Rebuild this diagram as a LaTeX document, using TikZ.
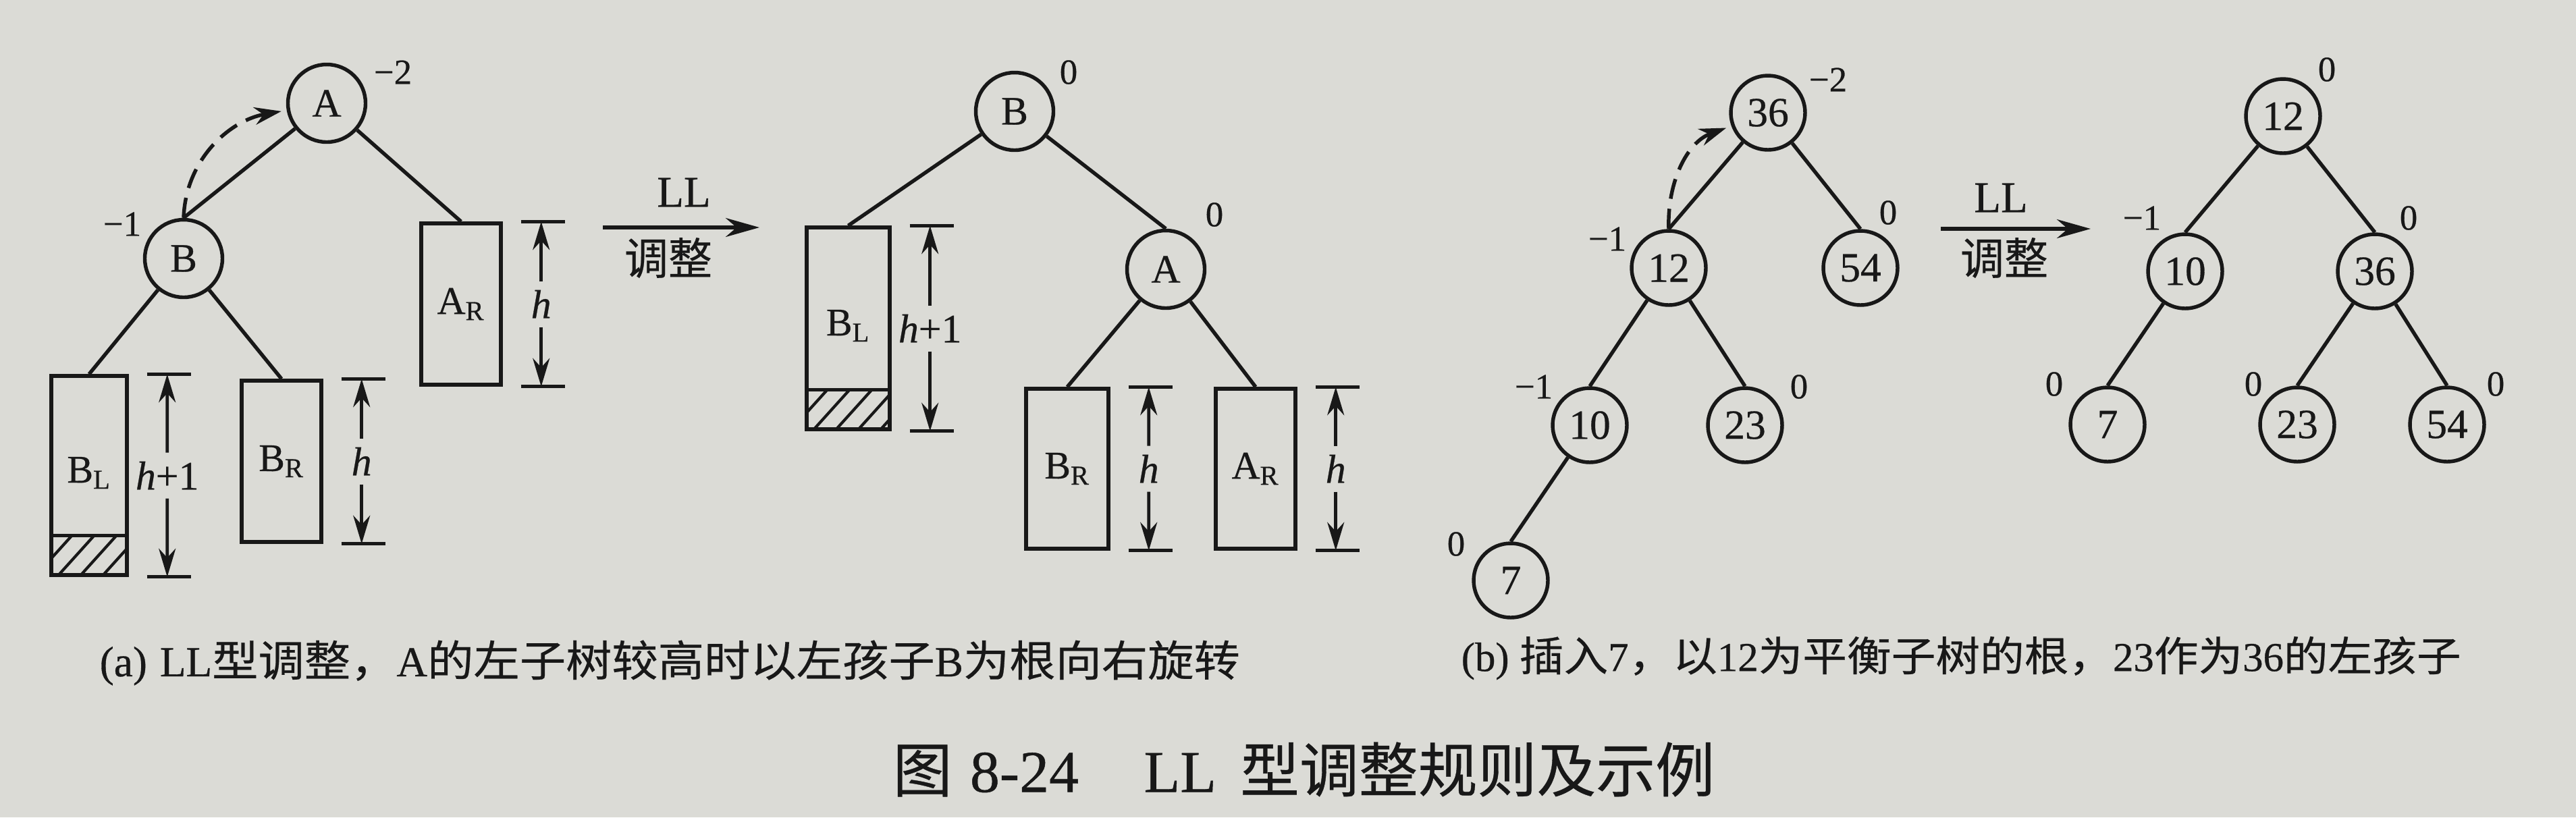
\documentclass[tikz,border=0pt]{standalone}
\usepackage{fontspec}
\setmainfont{Liberation Serif}[FakeBold=0.5]
\newfontfamily\cjk{Noto Sans CJK SC}[FakeBold=0.4]
\newfontfamily\capfont{Noto Sans CJK SC}[FakeStretch=1.08,FakeBold=0.4]
\usepackage{xcolor}
\definecolor{paper}{RGB}{219,219,214}
\definecolor{ink}{RGB}{24,24,24}
\usetikzlibrary{arrows.meta,calc}

\begin{document}
\begin{tikzpicture}[>={Stealth[length=4.5mm,width=2.8mm]},line width=1.55pt,color=ink]
  \tikzstyle{keynode}=[circle,draw,minimum size=1.15cm,inner sep=0pt,font=\fontsize{17}{17}\selectfont]
  \tikzstyle{numnode}=[circle,draw,minimum size=1.10cm,inner sep=0pt,font=\fontsize{17.5}{17.5}\selectfont]
  \tikzstyle{subtree}=[rectangle,draw,minimum width=1.18cm,minimum height=2.38cm,inner sep=0pt,font=\fontsize{16.5}{16.5}\selectfont]
  \tikzstyle{balance}=[inner sep=0pt,font=\fontsize{15}{15}\selectfont]
  \tikzstyle{heightlbl}=[inner sep=3pt,font=\fontsize{17}{17}\selectfont]
  \tikzstyle{dimarrow}=[line width=1.3pt,->,>={Stealth[length=4.2mm,width=2.5mm]}]
  \tikzstyle{rotarrow}=[->,dash pattern=on 0.3cm off 0.15cm,shorten >=0.08cm,>={Stealth[length=4mm,width=2.6mm]}]
  \tikzstyle{adjarrow}=[->,>={Stealth[length=5mm,width=2.8mm]}]
  \tikzstyle{adjtext}=[inner sep=0pt,font=\fontsize{18.5}{18.5}\selectfont]
  \tikzstyle{captxt}=[inner sep=0pt,anchor=west,font=\fontsize{17.3}{17.3}\selectfont]

  \fill[paper] (0,0) rectangle (38.16,-12.11);
  \useasboundingbox (0,0) rectangle (38.16,-12.11);

  \node[keynode] (A1) at (4.84,-1.53) {A};
  \node[keynode] (B1) at (2.72,-3.83) {B};
  \node[subtree,minimum height=2.39cm] (AR1) at (6.83,-4.505) {A\textsubscript{R}};
  \node[subtree,minimum width=1.12cm,minimum height=2.95cm] (BL1) at (1.32,-7.045) {\raisebox{0.17cm}{B\textsubscript{L}}};
  \node[subtree,minimum height=2.39cm] (BR1) at (4.17,-6.835) {B\textsubscript{R}};
  \node[balance] (balA1) at (5.82,-1.07) {−2};
  \node[balance] (balB1) at (1.81,-3.32) {−1};

  \draw (A1) -- (B1.north);
  \draw (A1) -- (AR1.north);
  \draw (B1) -- (BL1.north);
  \draw (B1) -- (BR1.north);
  \draw[rotarrow] (B1.north) to[out=88,in=190] (A1);

  \coordinate (adj1s) at (8.93,-3.37);
  \coordinate (adj1e) at (11.25,-3.37);
  \draw[adjarrow] (adj1s) -- (adj1e);
  \node[adjtext] (adj1top) at (10.13,-2.85) {LL};
  \node[adjtext] (adj1bot) at (9.90,-3.82) {\cjk 调整};

  \node[keynode] (B2) at (15.03,-1.65) {B};
  \node[keynode] (A2) at (17.27,-3.99) {A};
  \node[subtree,minimum width=1.23cm,minimum height=2.99cm] (BL2) at (12.565,-4.865) {\raisebox{0.17cm}{B\textsubscript{L}}};
  \node[subtree,minimum width=1.22cm,minimum height=2.37cm] (BR2) at (15.81,-6.945) {B\textsubscript{R}};
  \node[subtree,minimum height=2.37cm] (AR2) at (18.60,-6.945) {A\textsubscript{R}};
  \node[balance] (balB2) at (15.83,-1.07) {0};
  \node[balance] (balA2) at (17.99,-3.18) {0};

  \draw (B2) -- (BL2.north);
  \draw (B2) -- (A2.north);
  \draw (A2) -- (BR2.north);
  \draw (A2) -- (AR2.north);

  \foreach \bx in {BL1,BL2} {
    \begin{scope}
      \clip (\bx.south west) rectangle ($(\bx.south east)+(0,0.61)$);
      \foreach \i in {0,...,4}
        \draw[line width=1.2pt] ($(\bx.south west)+({-0.22+0.33*\i},0)$) -- ++(0.55,0.61);
    \end{scope}
    \draw ($(\bx.south west)+(0,0.61)$) -- ($(\bx.south east)+(0,0.61)$);
  }

  \foreach \bx/\lab in {AR1/\textit{h}, BL1/\textit{h}+1, BR1/\textit{h}, BL2/\textit{h}+1, BR2/\textit{h}, AR2/\textit{h}} {
    \coordinate (\bx top) at ($(\bx.north east)+(0.57,0)$);
    \coordinate (\bx bot) at ($(\bx.south east)+(0.57,0)$);
    \node[heightlbl] (\bx h) at ($(\bx top)!0.5!(\bx bot)$) {\lab};
    \draw[dimarrow] (\bx h) -- (\bx top);
    \draw[dimarrow] (\bx h) -- (\bx bot);
    \draw ($(\bx top)+(-0.3,0)$) -- ($(\bx top)+(0.35,0)$);
    \draw ($(\bx bot)+(-0.3,0)$) -- ($(\bx bot)+(0.35,0)$);
  }

  \node[numnode] (ins36) at (26.19,-1.67) {36};
  \node[numnode] (ins12) at (24.72,-3.97) {12};
  \node[numnode] (ins54) at (27.56,-3.97) {54};
  \node[numnode] (ins10) at (23.55,-6.30) {10};
  \node[numnode] (ins23) at (25.85,-6.30) {23};
  \node[numnode] (ins7) at (22.38,-8.60) {7};
  \node[balance] (bal36) at (27.08,-1.18) {−2};
  \node[balance] (bal12) at (23.81,-3.54) {−1};
  \node[balance] (bal54) at (27.97,-3.15) {0};
  \node[balance] (bal10) at (22.72,-5.73) {−1};
  \node[balance] (bal23) at (26.65,-5.73) {0};
  \node[balance] (bal7) at (21.57,-8.06) {0};

  \draw (ins36) -- (ins12.north);
  \draw (ins36) -- (ins54.north);
  \draw (ins12) -- (ins10.north);
  \draw (ins12) -- (ins23.north);
  \draw (ins10) -- (ins7.north);
  \draw[rotarrow] (ins12.north) to[out=92,in=200] (ins36);

  \coordinate (adj2s) at (28.75,-3.39);
  \coordinate (adj2e) at (30.97,-3.39);
  \draw[adjarrow] (adj2s) -- (adj2e);
  \node[adjtext] (adj2top) at (29.64,-2.93) {LL};
  \node[adjtext] (adj2bot) at (29.69,-3.82) {\cjk 调整};

  \node[numnode] (fix12) at (33.82,-1.72) {12};
  \node[numnode] (fix10) at (32.37,-4.02) {10};
  \node[numnode] (fix36) at (35.18,-4.02) {36};
  \node[numnode] (fix7) at (31.22,-6.29) {7};
  \node[numnode] (fix23) at (34.03,-6.29) {23};
  \node[numnode] (fix54) at (36.25,-6.29) {54};
  \node[balance] (bfix12) at (34.47,-1.03) {0};
  \node[balance] (bfix10) at (31.73,-3.23) {−1};
  \node[balance] (bfix36) at (35.68,-3.23) {0};
  \node[balance] (bfix7) at (30.43,-5.69) {0};
  \node[balance] (bfix23) at (33.38,-5.69) {0};
  \node[balance] (bfix54) at (36.97,-5.69) {0};

  \draw (fix12) -- (fix10.north);
  \draw (fix12) -- (fix36.north);
  \draw (fix10) -- (fix7.north);
  \draw (fix36) -- (fix23.north);
  \draw (fix36) -- (fix54.north);

  \node[captxt,font=\fontsize{18}{18}\selectfont] (capa) at (1.45,-9.82) {(a)\hspace{0.3em}LL{\capfont 型调整，}A{\capfont 的左子树较高时以左孩子}B{\capfont 为根向右旋转}};
  \node[captxt] (capb) at (21.62,-9.75) {(b)\hspace{0.25em}{\capfont 插入}7{\capfont ，以}12{\capfont 为平衡子树的根，}23{\capfont 作为}36{\capfont 的左孩子}};
  \node[captxt,font=\fontsize{25}{25}\selectfont] (figcap) at (13.20,-11.40) {{\cjk 图}\hspace{0.3em}8-24\hspace{1.1em}LL\hspace{0.4em}{\cjk 型调整规则及示例}};
\end{tikzpicture}
\end{document}
